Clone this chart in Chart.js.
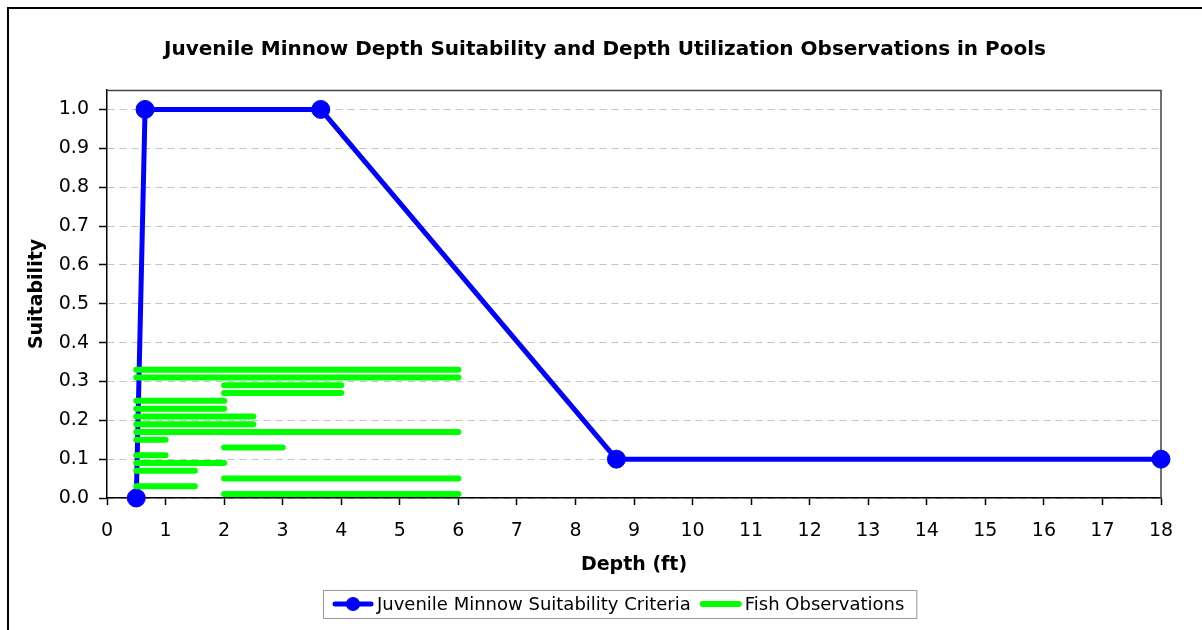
<!DOCTYPE html>
<html>
<head>
<meta charset="utf-8">
<script src="https://cdn.jsdelivr.net/npm/chart.js@4/dist/chart.umd.min.js"></script>
<style>
  html, body { margin: 0; padding: 0; background: #fff; }
  #c { display: block; }
</style>
</head>
<body>
<canvas id="c" width="1202" height="630"></canvas>
<script>
// ---- Data ----
const titleText = "Juvenile Minnow Depth Suitability and Depth Utilization Observations in Pools";
const xAxisTitle = "Depth (ft)";
const yAxisTitle = "Suitability";
const criteriaLabel = "Juvenile Minnow Suitability Criteria";
const obsLabel = "Fish Observations";

// Suitability criteria curve (depth ft, suitability)
const criteriaDepth = [0.5, 0.65, 3.65, 8.7, 18];
const criteriaSuit  = [0.0, 1.0, 1.0, 0.1, 0.1];

// Fish observations: horizontal depth ranges plotted at staggered heights
const obsLevel = [0.33, 0.31, 0.29, 0.27, 0.25, 0.23, 0.21, 0.19, 0.17, 0.15, 0.13, 0.11, 0.09, 0.07, 0.05, 0.03, 0.01];
const obsStart = [0.5, 0.5, 2, 2, 0.5, 0.5, 0.5, 0.5, 0.5, 0.5, 2, 0.5, 0.5, 0.5, 2, 0.5, 2];
const obsEnd   = [6, 6, 4, 4, 2, 2, 2.5, 2.5, 6, 1, 3, 1, 2, 1.5, 6, 1.5, 6];

// Axis ticks
const xTickValues = [0, 1, 2, 3, 4, 5, 6, 7, 8, 9, 10, 11, 12, 13, 14, 15, 16, 17, 18];
const yTickValues = [0.0, 0.1, 0.2, 0.3, 0.4, 0.5, 0.6, 0.7, 0.8, 0.9, 1.0];
const xMin = 0, xMax = 18;
const yMin = 0, yMax = 1.05;

// ---- Build datasets ----
const criteriaData = criteriaDepth.map((d, i) => ({ x: d, y: criteriaSuit[i] }));
const obsData = [];
obsLevel.forEach((lvl, i) => {
  obsData.push({ x: obsStart[i], y: lvl });
  obsData.push({ x: obsEnd[i], y: lvl });
  obsData.push({ x: obsEnd[i], y: null });
});

const FONT = '"DejaVu Sans", "Liberation Sans", Arial, sans-serif';
const BLUE = '#0000FF';
const GREEN = '#00FF00';

// ---- Plugins ----
const framePlugin = {
  id: 'frame',
  beforeDraw(chart) {
    const ctx = chart.ctx;
    ctx.save();
    ctx.fillStyle = '#fff';
    ctx.fillRect(0, 0, chart.width, chart.height);
    ctx.fillStyle = '#000';
    ctx.fillRect(7, 7, 2, chart.height - 7);
    ctx.fillRect(7, 7, chart.width - 7, 2);
    ctx.restore();
  },
  beforeDatasetsDraw(chart) {
    const { ctx, chartArea: a } = chart;
    ctx.save();
    ctx.strokeStyle = '#444';
    ctx.lineWidth = 1.5;
    ctx.beginPath();
    ctx.moveTo(a.left, a.top + 0.5);
    ctx.lineTo(a.right, a.top + 0.5);
    ctx.lineTo(a.right, a.bottom);
    ctx.stroke();
    ctx.restore();
  }
};

const legendPlugin = {
  id: 'customLegend',
  afterDraw(chart) {
    const ctx = chart.ctx;
    const ds = chart.data.datasets;
    const items = [ds[0], ds[1]];
    ctx.save();
    ctx.font = '18px ' + FONT;
    const symW = 42, padL = 9, padR = 12, gapSymText = 3, gapItems = 9;
    const widths = items.map(d => ctx.measureText(d.label).width);
    const boxW = padL + symW + gapSymText + widths[0] + gapItems + symW + gapSymText + widths[1] + padR;
    const cx = 620, top = 590, h = 28;
    const left = Math.round(cx - boxW / 2);
    ctx.fillStyle = '#fff';
    ctx.fillRect(left, top, boxW, h);
    ctx.strokeStyle = '#999';
    ctx.lineWidth = 1;
    ctx.strokeRect(left + 0.5, top + 0.5, boxW, h);
    const cy = top + h / 2;
    let x = left + padL;
    items.forEach((d, i) => {
      ctx.strokeStyle = d.borderColor;
      ctx.lineWidth = d.borderWidth;
      ctx.lineCap = 'round';
      ctx.beginPath();
      ctx.moveTo(x + 3, cy);
      ctx.lineTo(x + symW - 3, cy);
      ctx.stroke();
      if (d.pointRadius > 0) {
        ctx.fillStyle = d.pointBackgroundColor;
        ctx.beginPath();
        ctx.arc(x + symW / 2, cy, 7, 0, Math.PI * 2);
        ctx.fill();
      }
      x += symW + gapSymText;
      ctx.fillStyle = '#000';
      ctx.textBaseline = 'middle';
      ctx.textAlign = 'left';
      ctx.fillText(d.label, x, cy + 1);
      x += widths[i] + gapItems;
    });
    ctx.restore();
  }
};

new Chart(document.getElementById('c'), {
  type: 'line',
  data: {
    datasets: [
      {
        label: criteriaLabel,
        data: criteriaData,
        borderColor: BLUE,
        backgroundColor: BLUE,
        borderWidth: 5,
        borderJoinStyle: 'round',
        pointRadius: 9,
        pointBorderWidth: 1,
        pointBackgroundColor: BLUE,
        pointBorderColor: BLUE,
        tension: 0,
        fill: false,
        clip: false,
        order: 1
      },
      {
        label: obsLabel,
        data: obsData,
        borderColor: GREEN,
        backgroundColor: GREEN,
        borderWidth: 6,
        borderCapStyle: 'round',
        pointRadius: 0,
        pointHoverRadius: 0,
        spanGaps: false,
        tension: 0,
        fill: false,
        clip: false,
        order: 0
      }
    ]
  },
  options: {
    responsive: false,
    animation: false,
    devicePixelRatio: 1,
    layout: { padding: { left: 49, right: 41, top: 0, bottom: 40 } },
    plugins: {
      legend: { display: false },
      tooltip: { enabled: false },
      title: {
        display: true,
        text: titleText,
        color: '#000',
        font: { family: FONT, size: 20, weight: 'bold', lineHeight: 1.2 },
        padding: { top: 38, bottom: 28 }
      }
    },
    scales: {
      x: {
        type: 'linear',
        min: xMin, max: xMax,
        afterBuildTicks(scale) {
          scale.ticks = xTickValues.map(v => ({ value: v }));
        },
        ticks: {
          autoSkip: false, maxRotation: 0,
          color: '#000', padding: 15,
          font: { family: FONT, size: 19 }
        },
        grid: { drawOnChartArea: false, drawTicks: true, tickLength: 7, tickColor: '#000', tickWidth: 1.5 },
        border: { display: true, color: '#000', width: 1.5 },
        title: {
          display: true, text: xAxisTitle, color: '#000',
          font: { family: FONT, size: 19, weight: 'bold', lineHeight: 1.2 },
          padding: { top: 0, bottom: 13.6 }
        },
        afterFit(scale) { scale.height = 92; }
      },
      y: {
        type: 'linear',
        min: yMin, max: yMax,
        afterBuildTicks(scale) {
          scale.ticks = yTickValues.map(v => ({ value: v }));
        },
        ticks: {
          color: '#000', padding: 10,
          font: { family: FONT, size: 19 },
          callback: v => Number(v).toFixed(1)
        },
        grid: { color: '#c4c4c4', lineWidth: 1, drawTicks: true, tickLength: 8, tickColor: '#000', tickWidth: 1.5, tickBorderDash: [] },
        border: { display: true, color: '#000', width: 1.5, dash: [7, 5] },
        title: {
          display: true, text: yAxisTitle, color: '#000',
          font: { family: FONT, size: 19, weight: 'bold', lineHeight: 1.2 },
          padding: { top: -23.4, bottom: 0 }
        },
        afterFit(scale) { scale.width = 58; }
      }
    }
  },
  plugins: [framePlugin, legendPlugin]
});
</script>
</body>
</html>
